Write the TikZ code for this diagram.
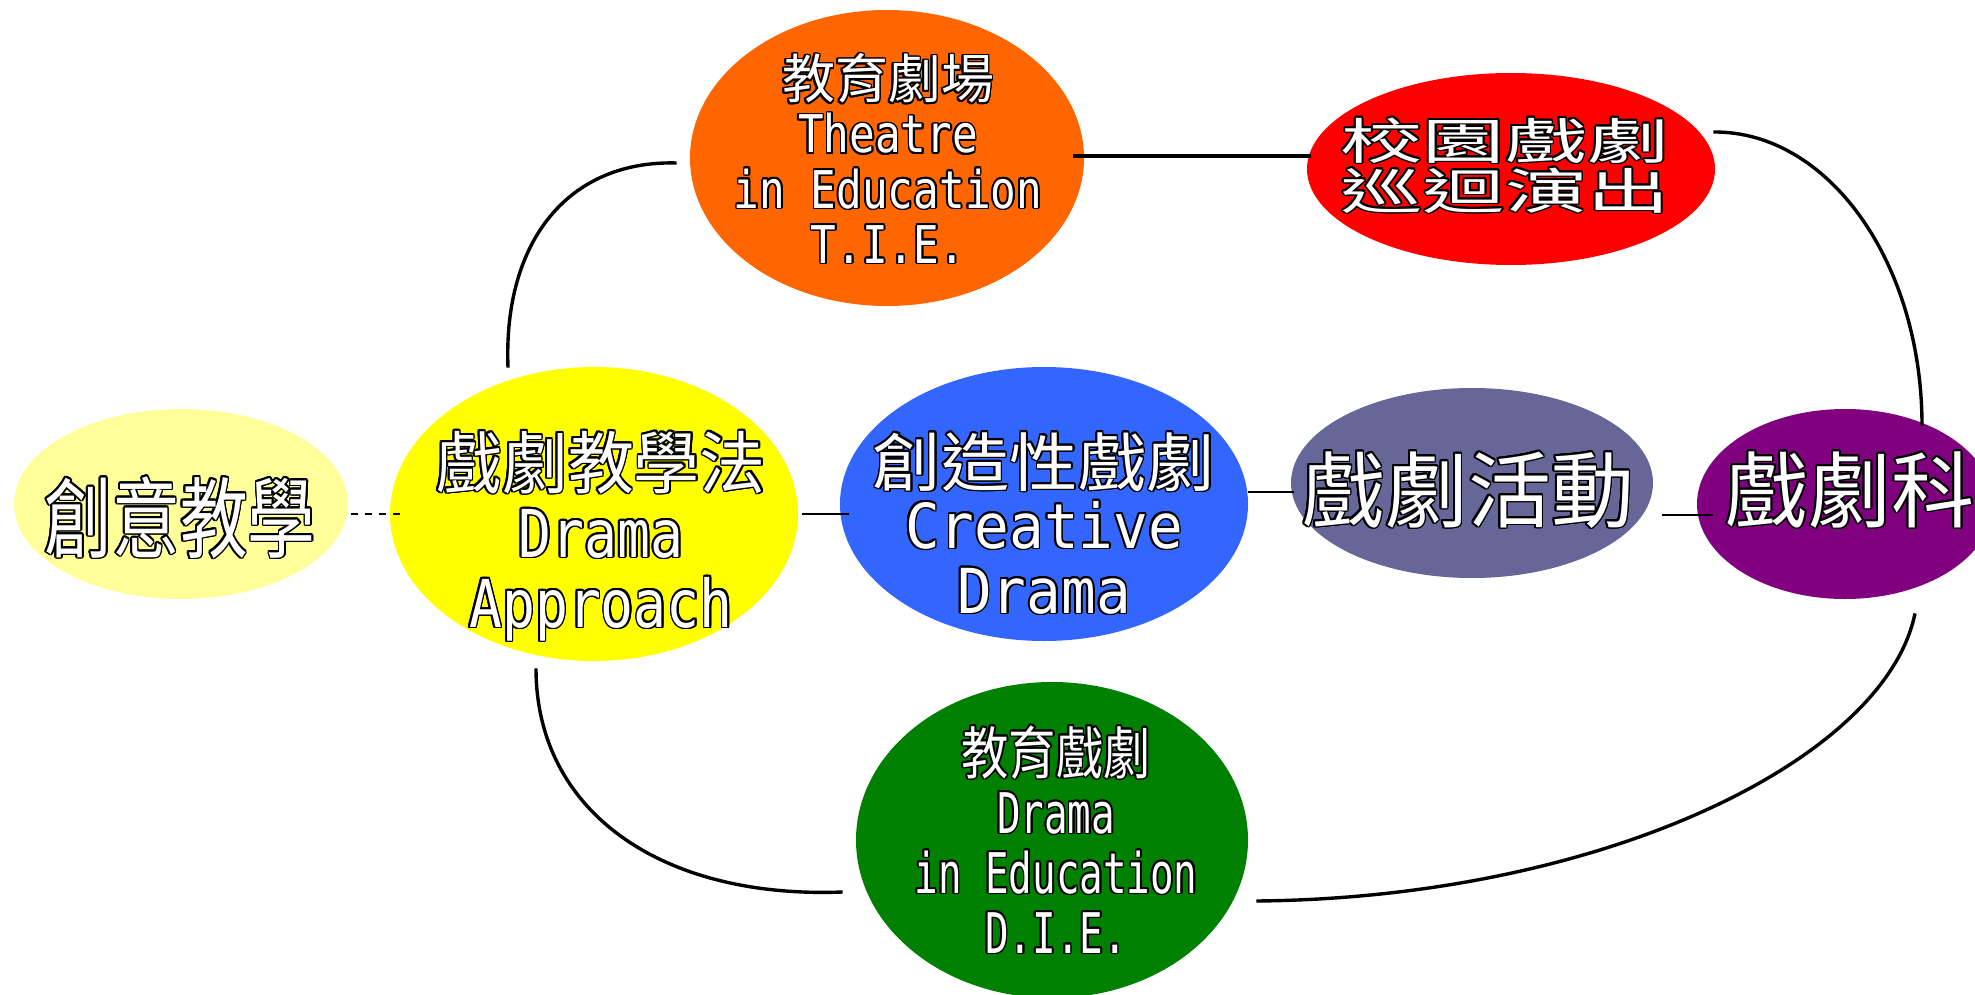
\documentclass[tikz,border=0pt]{standalone}
\usepackage{fontspec}
\usetikzlibrary{shapes.geometric,calc}
\setmainfont{Noto Sans CJK TC}
\newfontfamily\cA[FakeStretch=0.77]{Noto Sans CJK TC}
\newfontfamily\cB[FakeStretch=0.97]{Noto Sans CJK TC}
\newfontfamily\cC[FakeStretch=1.07]{Noto Sans CJK TC}
\newfontfamily\cD{Noto Sans CJK TC}
\newfontfamily\cG[FakeStretch=1.68]{Noto Sans CJK TC}
\newfontfamily\cH[FakeStretch=0.83]{Noto Sans CJK TC}
\newfontfamily\lB[FakeStretch=0.83]{DejaVu Sans Mono}
\newfontfamily\lC[FakeStretch=0.93]{DejaVu Sans Mono}
\newfontfamily\lF[FakeStretch=0.82]{DejaVu Sans Mono}
\newfontfamily\lH[FakeStretch=0.70]{DejaVu Sans Mono}
\newcommand\fs[1]{\fontsize{#1}{#1}\selectfont}
\newcommand\outlined[1]{\leavevmode\begingroup
  \setbox0=\hbox{#1}%
  \foreach \ang in {0,22.5,...,337.5}{%
    \pgfmathsetlengthmacro\olx{0.85pt*cos(\ang)}%
    \pgfmathsetlengthmacro\oly{0.85pt*sin(\ang)}%
    \rlap{\hspace*{\olx}\raisebox{\oly}{\color{black}\copy0}}}%
  \color{white}\box0\endgroup}
\definecolor{cLightY}{HTML}{FFFF99}
\definecolor{cYellow}{HTML}{FFFF00}
\definecolor{cBlue}{HTML}{3366FF}
\definecolor{cSlate}{HTML}{666699}
\definecolor{cPurple}{HTML}{800080}
\definecolor{cOrange}{HTML}{FF6600}
\definecolor{cRed}{HTML}{FF0000}
\definecolor{cGreen}{HTML}{008000}
\begin{document}
\begin{tikzpicture}[x=0.5pt,y=-0.5pt,
  blob/.style={ellipse,draw=none,inner sep=0pt},
  txt/.style={anchor=base,inner sep=0pt},
  thinline/.style={line width=0.75pt,black},
  thickline/.style={line width=1.6pt,black},
  curve/.style={line width=1.7pt,black}]
\useasboundingbox (0,0) rectangle (1975,995);
% ellipses
\node[blob,fill=cLightY,minimum width=167pt,minimum height=95pt] (a) at (181,504) {};
\node[blob,fill=cYellow,minimum width=204pt,minimum height=147pt] (b) at (594,514) {};
\node[blob,fill=cBlue,minimum width=204pt,minimum height=137pt] (c) at (1044,504) {};
\node[blob,fill=cSlate,minimum width=181pt,minimum height=95pt] (d) at (1472,483) {};
\node[blob,fill=cPurple,minimum width=148pt,minimum height=95pt] (e) at (1845,504) {};
\node[blob,fill=cOrange,minimum width=197pt,minimum height=148pt] (f) at (887,158) {};
\node[blob,fill=cRed,minimum width=204pt,minimum height=96pt] (g) at (1511,169) {};
\node[blob,fill=cGreen,minimum width=196pt,minimum height=158pt] (h) at (1052,840) {};
% texts
\node[txt] (a1) at (180,551) {\outlined{\cA\fs{44pt}創意教學}};
\node[txt] (b1) at (601,488) {\outlined{\cB\fs{34pt}戲劇教學法}};
\node[txt] (b2) at (601,557) {\outlined{\lB\fs{33pt}Drama}};
\node[txt] (b3) at (601,627) {\outlined{\lB\fs{33pt}Approach}};
\node[txt] (c1) at (1044,486) {\outlined{\cC\fs{32pt}創造性戲劇}};
\node[txt] (c2) at (1044,548) {\outlined{\lC\fs{31pt}Creative}};
\node[txt] (c3) at (1044,613) {\outlined{\lC\fs{31pt}Drama}};
\node[txt] (d1) at (1468,521) {\outlined{\cD\fs{41.5pt}戲劇活動}};
\node[txt] (e1) at (1850,521) {\outlined{\cD\fs{41.5pt}戲劇科}};
\node[txt] (f1) at (888,99) {\outlined{\cD\fs{26.5pt}教育劇場}};
\node[txt] (f2) at (888,153) {\outlined{\lF\fs{26pt}Theatre}};
\node[txt] (f3) at (888,208) {\outlined{\lF\fs{26pt}in Education}};
\node[txt] (f4) at (888,263) {\outlined{\lF\fs{26pt}T.I.E.}};
\node[txt] (g1) at (1505,159) {\outlined{\cG\fs{24.5pt}校園戲劇}};
\node[txt] (g2) at (1505,209) {\outlined{\cG\fs{24.5pt}巡迴演出}};
\node[txt] (h1) at (1056,774) {\outlined{\cH\fs{28.5pt}教育戲劇}};
\node[txt] (h2) at (1056,833) {\outlined{\lH\fs{28pt}Drama}};
\node[txt] (h3) at (1056,893) {\outlined{\lH\fs{28pt}in Education}};
\node[txt] (h4) at (1056,953) {\outlined{\lH\fs{28pt}D.I.E.}};
% straight connectors
\draw[thinline,dash pattern=on 3.5pt off 3.5pt,shorten <=1.5pt,shorten >=-5pt] (a.east |- b.west) -- (b.west);
\draw[thinline,shorten <=2pt,shorten >=-4.5pt] (b.east) -- (b.east -| c.west);
\draw[thinline,shorten >=-1.5pt] ($(c.east)+(0,-12)$) -- ($(c.east -| d.west)+(0,-12)$);
\draw[thinline] ($(d.east)+(9,32)$) -- ($(d.east -| e.west)+(16,32)$);
\draw[thickline] ($(f.east)+(-11,-2)$) -- ($(f.east -| g.west)+(4,-2)$);
% curved connectors
\draw[curve] ($(b.north)+(-86,1)$) .. controls +(-5,-128) and +(-107,-3) .. ($(f.west)+(-13,5)$);
\draw[curve] ($(g.east)+(-2,-37)$) .. controls +(115,-1) and +(0,-163) .. ($(e.north)+(77,17)$);
\draw[curve] ($(b.south)+(-58,7)$) .. controls +(0,142) and +(-183,7) .. ($(h.west)+(-13,52)$);
\draw[curve] ($(h.east)+(8,61)$) .. controls +(344,-3) and +(-30,147) .. ($(e.south)+(70,14)$);
\end{tikzpicture}
\end{document}
